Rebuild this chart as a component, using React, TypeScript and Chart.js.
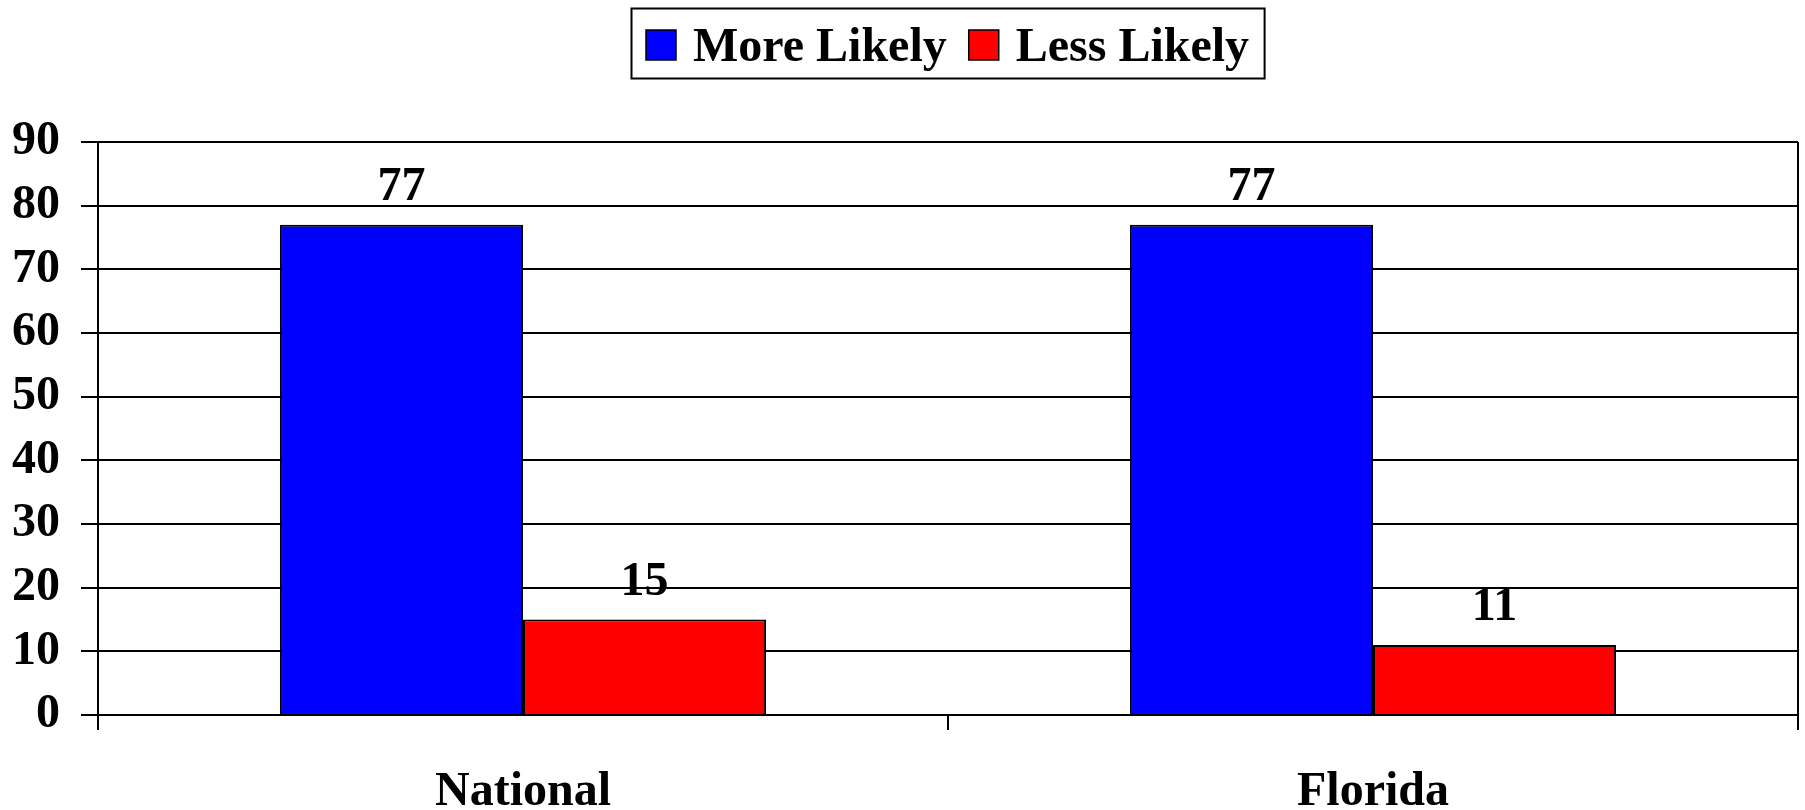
import React, { useEffect, useRef } from "react";
import { Chart, registerables } from "chart.js";

Chart.register(...registerables);

const categories: string[] = ["National", "Florida"];
const moreLikely: number[] = [77, 77];
const lessLikely: number[] = [15, 11];
const seriesNames: string[] = ["More Likely", "Less Likely"];
const seriesColors: string[] = ["#0000FF", "#FF0000"];
const yMin = 0;
const yMax = 90;
const yStep = 10;

const FONT_FAMILY = "'Liberation Serif', 'Times New Roman', serif";

const valueLabelPlugin = {
  id: "valueLabels",
  afterDatasetsDraw(chart: any) {
    const ctx = chart.ctx;
    ctx.save();
    ctx.font = `bold 48px ${FONT_FAMILY}`;
    ctx.fillStyle = "#000";
    ctx.textAlign = "center";
    ctx.textBaseline = "alphabetic";
    chart.data.datasets.forEach((ds: any, di: number) => {
      const meta = chart.getDatasetMeta(di);
      meta.data.forEach((el: any, i: number) => {
        ctx.fillText(String(ds.data[i]), el.x, el.y - 25);
      });
    });
    ctx.restore();
  },
};

const boxLegendPlugin = {
  id: "boxLegend",
  afterDraw(chart: any) {
    const ctx = chart.ctx;
    const area = chart.chartArea;
    ctx.save();
    ctx.font = `bold 48px ${FONT_FAMILY}`;
    const boxSize = 30;
    const boxGap = 17;
    const itemGap = 22;
    const sidePad = 15;
    const items = chart.data.datasets.map((ds: any) => ({
      text: ds.label as string,
      color: ds.backgroundColor as string,
      w: ctx.measureText(ds.label).width,
    }));
    let total = sidePad * 2;
    items.forEach((it: any, i: number) => {
      total += boxSize + boxGap + it.w + (i > 0 ? itemGap : 0);
    });
    const cx = (area.left + area.right) / 2;
    const left = Math.round(cx - total / 2);
    const top = 8;
    const height = 70;
    ctx.lineWidth = 2;
    ctx.strokeStyle = "#000";
    ctx.strokeRect(left + 0.5, top + 0.5, total, height);
    const midY = top + height / 2 + 2;
    let x = left + sidePad;
    items.forEach((it: any, i: number) => {
      if (i > 0) x += itemGap;
      ctx.fillStyle = it.color;
      ctx.fillRect(x, midY - boxSize / 2, boxSize, boxSize);
      ctx.lineWidth = 1.5;
      ctx.strokeStyle = "#000";
      ctx.strokeRect(x, midY - boxSize / 2, boxSize, boxSize);
      x += boxSize + boxGap;
      ctx.fillStyle = "#000";
      ctx.textAlign = "left";
      ctx.textBaseline = "alphabetic";
      ctx.fillText(it.text, x, midY + 16);
      x += it.w;
    });
    ctx.restore();
  },
};

export default function App() {
  const canvasRef = useRef<HTMLCanvasElement | null>(null);

  useEffect(() => {
    const canvas = canvasRef.current;
    if (!canvas) return;
    const chart = new Chart(canvas, {
      type: "bar",
      data: {
        labels: categories,
        datasets: [
          {
            label: seriesNames[0],
            data: moreLikely,
            backgroundColor: seriesColors[0],
            borderColor: "#000",
            borderWidth: 2,
          },
          {
            label: seriesNames[1],
            data: lessLikely,
            backgroundColor: seriesColors[1],
            borderColor: "#000",
            borderWidth: 2,
          },
        ],
      },
      options: {
        responsive: false,
        animation: false,
        devicePixelRatio: 1,
        layout: { padding: { top: 142, left: 12, right: 7, bottom: 0 } },
        datasets: {
          bar: { categoryPercentage: 0.572, barPercentage: 1 },
        },
        plugins: {
          legend: { display: false },
          tooltip: { enabled: false },
        },
        scales: {
          x: {
            grid: {
              offset: true,
              drawOnChartArea: true,
              drawTicks: true,
              tickLength: 15,
              lineWidth: 2,
              color: (c: any) => (c.type === "scale" ? "#000" : "rgba(0,0,0,0)"),
              tickColor: "#000",
            },
            border: { display: true, color: "#000", width: 2 },
            ticks: {
              color: "#000",
              padding: 34,
              font: { family: FONT_FAMILY, size: 48, weight: "bold" },
            },
            afterFit: (scale: any) => {
              scale.height = 95;
            },
          },
          y: {
            min: yMin,
            max: yMax,
            grid: {
              color: "#000",
              lineWidth: 2,
              drawTicks: true,
              tickLength: 17,
              tickColor: "#000",
            },
            border: { display: true, color: "#000", width: 2 },
            ticks: {
              stepSize: yStep,
              color: "#000",
              padding: 21,
              font: { family: FONT_FAMILY, size: 48, weight: "bold" },
            },
            afterFit: (scale: any) => {
              scale.width = 86;
            },
          },
        },
      },
      plugins: [valueLabelPlugin, boxLegendPlugin],
    });
    return () => chart.destroy();
  }, []);

  return (
    <div style={{ position: "absolute", left: 0, top: 0, width: 1805, height: 810, background: "#fff" }}>
      <canvas ref={canvasRef} width={1805} height={810} style={{ display: "block" }} />
    </div>
  );
}
